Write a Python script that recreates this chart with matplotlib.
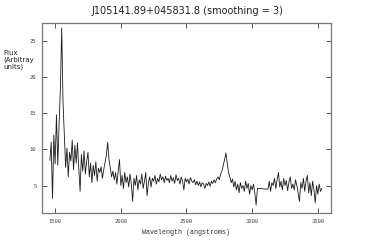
import numpy as np
import matplotlib
matplotlib.use("Agg")
import matplotlib.pyplot as plt

# spectrum, two pieces (gap around 3060-3110 A)
wave_a = np.arange(1460, 3060, 10)
flux_a = [
    8.5, 11.0, 3.2, 12.0, 8.0, 14.8, 7.8, 13.5, 18.5, 26.8,
    16.5, 12.0, 7.5, 10.2, 6.2, 9.6, 8.4, 11.3, 7.2, 10.6,
    8.1, 10.9, 7.4, 4.2, 9.3, 7.0, 9.8, 6.6, 8.4, 9.6,
    6.2, 8.1, 5.4, 7.8, 6.4, 8.3, 5.6, 7.4, 6.8, 7.6,
    6.0, 7.2, 8.2, 9.2, 11.0, 8.6, 7.4, 6.2, 7.0, 5.8,
    6.8, 5.2, 7.0, 8.6, 5.0, 6.4, 4.6, 6.8, 5.4, 6.2,
    4.8, 6.6, 5.2, 2.8, 6.0, 5.0, 6.4, 4.4, 5.8, 5.2,
    6.6, 4.6, 5.6, 6.8, 3.6, 5.4, 6.2, 4.8, 6.0, 5.6,
    6.4, 5.2, 6.0, 5.5, 6.6, 5.8, 6.2, 5.4, 6.3, 5.7,
    6.0, 5.4, 6.4, 5.6, 6.1, 5.3, 6.5, 5.7, 6.0, 5.2,
    6.2, 5.6, 4.4, 6.0, 5.5, 5.9, 5.2, 6.1, 5.6, 5.4,
    5.8, 5.1, 5.6, 5.0, 5.5, 4.8, 5.4, 5.2, 4.6, 5.3,
    5.0, 5.5, 4.9, 5.6, 5.3, 5.8, 5.4, 5.9, 6.2, 5.8,
    6.6, 7.0, 7.8, 8.6, 9.5, 8.2, 6.8, 6.2, 5.4, 5.9,
    4.8, 5.6, 4.4, 5.2, 4.0, 5.4, 4.6, 5.0, 4.2, 5.6,
    4.6, 5.3, 3.8, 5.0, 4.4, 5.2, 4.0, 2.3, 4.6, 4.6,
]
wave_b = np.arange(3120, 3540, 10)
flux_b = [
    4.5, 5.6, 4.2, 5.4, 5.0, 6.0, 4.6, 5.8, 6.8, 4.8,
    5.6, 4.4, 6.0, 5.0, 5.7, 4.3, 5.5, 6.2, 4.6, 5.2,
    4.4, 5.8, 5.0, 4.0, 2.8, 5.4, 4.6, 6.0, 4.2, 5.6,
    6.4, 4.0, 5.4, 3.6, 5.6, 4.4, 2.6, 5.0, 3.8, 5.2,
    4.2, 4.6,
]

wave = np.concatenate([wave_a, wave_b])
flux = np.array(flux_a + flux_b)

x_ticks = [1500, 2000, 2500, 3000, 3500]
y_ticks = [5, 10, 15, 20, 25]

fig = plt.figure(figsize=(3.74, 2.5), dpi=100)
ax = fig.add_axes([0.1123, 0.148, 0.7727, 0.76])
ax.plot(wave, flux, color="#1a1a1a", lw=0.6)

ax.set_xlim(1400, 3600)
ax.set_ylim(1.2, 27.5)
ax.set_xticks(x_ticks)
ax.set_yticks(y_ticks)
ax.tick_params(direction="in", top=True, right=True, length=3.5,
               width=0.7, color="#555555", labelsize=4, pad=4)
for lab in ax.get_xticklabels() + ax.get_yticklabels():
    lab.set_family("Liberation Mono")
    lab.set_color("#444444")
for s in ax.spines.values():
    s.set_color("#777777")
    s.set_linewidth(0.9)

ax.set_xlabel("Wavelength (angstroms)", family="Liberation Mono",
              fontsize=4.8, color="#333333", labelpad=4)
fig.text(0.5, 0.955, "J105141.89+045831.8 (smoothing = 3)",
         ha="center", va="center", fontsize=7, color="#222222")
fig.text(0.008, 0.80, "Flux\n(Arbitray\nunits)", ha="left", va="top",
         fontsize=5, color="#222222", linespacing=1.1)

fig.savefig("out.png", dpi=100)
